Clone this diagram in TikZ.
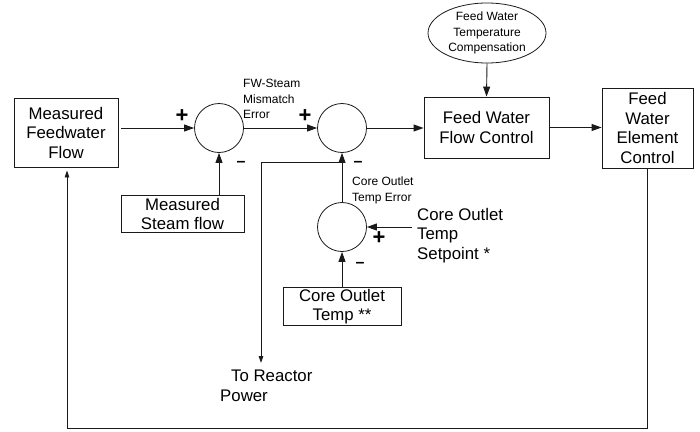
\documentclass[tikz,border=0pt]{standalone}
\usepackage{fontspec}
\setmainfont{Liberation Sans}
\usepackage{tikz}
\usetikzlibrary{shapes.geometric,arrows.meta,positioning,calc}
\definecolor{inkgrey}{HTML}{1A1A1A}
\newcommand{\fsbig}{\fontsize{16.8}{19.5}\selectfont}
\newcommand{\fssmall}{\fontsize{12}{15.5}\selectfont}
\newcommand{\fsplus}{\fontsize{22}{22}\selectfont\bfseries}
\newcommand{\fsminus}{\fontsize{16}{16}\selectfont\bfseries}
\tikzset{
  blockbox/.style={rectangle,draw=inkgrey,line width=0.9pt,align=center,inner sep=1pt,font=\fsbig},
  sumnode/.style={circle,draw=inkgrey,line width=0.8pt,minimum size=49pt,inner sep=0pt},
  sig/.style={draw=inkgrey,line width=0.9pt,-{Triangle[length=10pt,width=7pt]}},
  thinsig/.style={draw=inkgrey,line width=0.8pt,-{Triangle[length=7pt,width=4.5pt]}},
  smalltxt/.style={align=left,inner sep=0pt,font=\fssmall},
  bigtxt/.style={align=left,inner sep=0pt,font=\fsbig},
}

\begin{document}
\begin{tikzpicture}[x=1pt,y=-1pt]
\useasboundingbox (0,0) rectangle (700,431);

% blocks
\node[blockbox,minimum width=104pt,minimum height=69pt] (mff) at (66,132.5) {Measured\\Feedwater\\Flow};
\node[blockbox,minimum width=123pt,minimum height=37pt] (msf) at (182.5,214) {Measured\\Steam flow};
\node[blockbox,minimum width=125pt,minimum height=61pt] (fwfc) at (486.5,127.5) {Feed Water\\Flow Control};
\node[blockbox,minimum width=91pt,minimum height=80pt] (fwec) at (647.5,128) {Feed\\Water\\Element\\Control};
\node[blockbox,minimum width=118pt,minimum height=37pt] (cot) at (342,306.5) {Core Outlet\\Temp **};
\node[ellipse,draw=inkgrey,line width=0.8pt,minimum width=118pt,minimum height=60pt,
  inner sep=0pt,align=center,font=\fssmall] (fwtc) at (487,33) {Feed Water\\Temperature\\Compensation};

% summing junctions
\node[sumnode] (sum1) at (219,128) {};
\node[sumnode] (sum2) at (342,128) {};
\node[sumnode] (sum3) at (342,227) {};

% labels
\node[smalltxt,anchor=north west] (mmerr) at (243,79) {FW-Steam\\Mismatch\\Error};
\node[smalltxt,anchor=north west] (coterr) at (352,177) {Core Outlet\\Temp Error};
\node[bigtxt,anchor=north west] (setpt) at (417,208) {Core Outlet\\Temp\\Setpoint *};
\node[bigtxt,anchor=north west] (rptxt) at (220,370) {\hspace*{11pt}To Reactor\\Power};

% signs
\node[font=\fsplus,inner sep=0pt] (p1) at (182,116) {+};
\node[font=\fsminus,inner sep=0pt] (m1) at (241,164) {\textendash};
\node[font=\fsplus,inner sep=0pt] (p2) at (305,116) {+};
\node[font=\fsminus,inner sep=0pt] (m2) at (358,164) {\textendash};
\node[font=\fsplus,inner sep=0pt] (p3) at (379,238) {+};
\node[font=\fsminus,inner sep=0pt] (m3) at (360,265) {\textendash};

% free ends
\coordinate (spin) at (412,227);
\coordinate (tap) at (342,162);
\coordinate (rpow) at (261,363);
\coordinate (fbl) at (67,428);

% forward path
\draw[sig] ($(sum1.west -| mff.east)+(3,0)$) -- (sum1.west);
\draw[sig] (msf.north -| sum1.south) -- (sum1.south);
\draw[sig] (sum1.east) -- (sum2.west);
\draw[sig] (sum2.east) -- (sum2.east -| fwfc.west);
\draw[sig] (fwtc.south) -- (fwfc.north);
\draw[sig] (fwfc.east) -- (fwfc.east -| fwec.west);

% core outlet temperature loop
\draw[sig] (cot.north) -- (sum3.south);
\draw[sig] (spin) -- (sum3.east);
\draw[sig] (sum3.north) -- (sum2.south);
\draw[thinsig] (tap) -| (rpow);

% feedback
\draw[thinsig] (fwec.south) |- (fbl) -- ($(fbl |- mff.south)+(0,3)$);
\end{tikzpicture}
\end{document}
